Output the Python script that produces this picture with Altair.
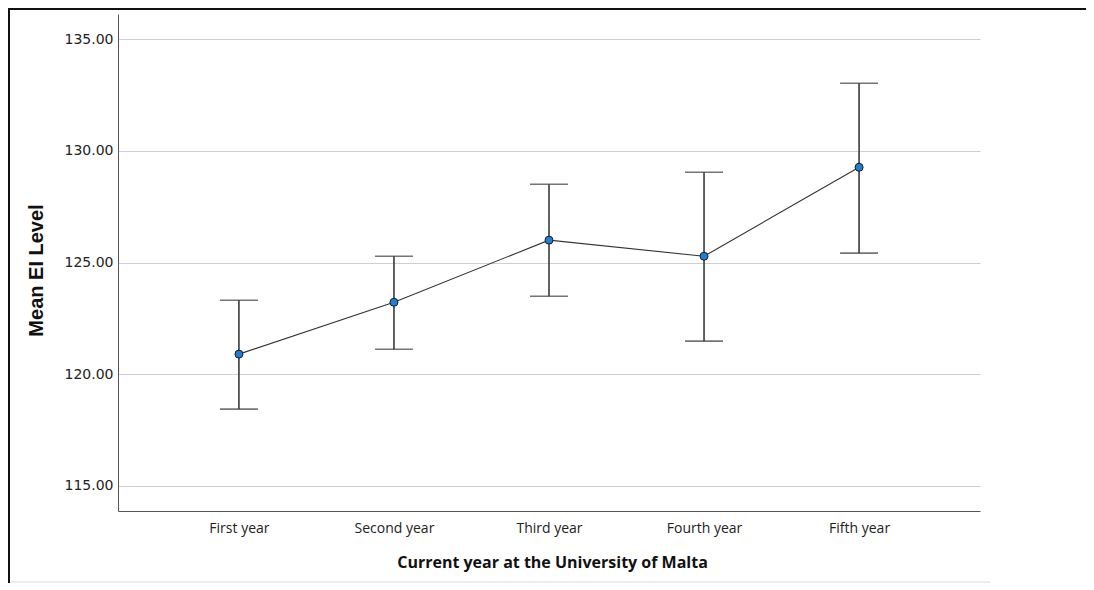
import altair as alt
import pandas as pd

years = ["First year", "Second year", "Third year", "Fourth year", "Fifth year"]
means = [120.90, 123.22, 126.00, 125.28, 129.26]
lower = [118.44, 121.12, 123.49, 121.48, 125.42]
upper = [123.31, 125.28, 128.50, 129.04, 133.02]
y_ticks = [115, 120, 125, 130, 135]

df = pd.DataFrame({"year": years, "mean": means, "lo": lower, "hi": upper})

W, H = 862, 497

xscale = alt.Scale(type="point", domain=years, padding=0.78)
yscale = alt.Scale(domain=[113.88, 136.12], nice=False, zero=False)

xenc = alt.X("year:N", scale=xscale, sort=years,
             axis=alt.Axis(title="Current year at the University of Malta",
                           labelAngle=0, ticks=False, tickSize=0, grid=False,
                           labelFont="Open Sans", labelFontSize=14, labelColor="#222",
                           labelBaseline="alphabetic", labelPadding=21,
                           titleFont="Open Sans", titleFontWeight="bold", titleFontSize=16,
                           titleColor="#111", titleX=434, titleY=56,
                           titleBaseline="alphabetic",
                           domainColor="#555", domainWidth=1))

base = alt.Chart(df)

grid = base.mark_point(opacity=0).encode(
    x=xenc,
    y=alt.Y("mean:Q", scale=yscale,
            axis=alt.Axis(title="Mean EI Level", values=y_ticks, format=".2f",
                          ticks=False, tickSize=0, grid=True, gridColor="#cfcfcf",
                          gridWidth=1.2, labelFont="DejaVu Sans", labelFontSize=14,
                          labelColor="#222", labelPadding=5,
                          titleFont="Liberation Sans", titleFontWeight="bold",
                          titleFontSize=20, titleColor="#111", titleAngle=-90,
                          titleX=-82, titleY=256, titleBaseline="middle",
                          titleAlign="center",
                          domainColor="#555", domainWidth=1)),
)

bars = base.mark_rule(color="#3a3a3a", strokeWidth=1.6).encode(
    x=alt.X("year:N", scale=xscale, sort=years),
    y=alt.Y("lo:Q", scale=yscale),
    y2="hi:Q",
)
cap_hi = base.mark_tick(color="#3a3a3a", size=38, thickness=1.6, orient="horizontal").encode(
    x=alt.X("year:N", scale=xscale, sort=years),
    y=alt.Y("hi:Q", scale=yscale),
)
cap_lo = base.mark_tick(color="#3a3a3a", size=38, thickness=1.6, orient="horizontal").encode(
    x=alt.X("year:N", scale=xscale, sort=years),
    y=alt.Y("lo:Q", scale=yscale),
)
line = base.mark_line(color="#333333", strokeWidth=1.1).encode(
    x=alt.X("year:N", scale=xscale, sort=years),
    y=alt.Y("mean:Q", scale=yscale),
)
pts = base.mark_circle(size=64, color="#1f7fd6", stroke="#1a1a1a", strokeWidth=1, opacity=1).encode(
    x=alt.X("year:N", scale=xscale, sort=years),
    y=alt.Y("mean:Q", scale=yscale),
)

one = alt.Chart(pd.DataFrame({"k": [0]}))
frame_top = one.mark_rule(color="#111", strokeWidth=2).encode(
    x=alt.value(-110), x2=alt.value(W + 106), y=alt.value(-5), y2=alt.value(-5))
frame_left = one.mark_rule(color="#111", strokeWidth=2).encode(
    x=alt.value(-109), x2=alt.value(-109), y=alt.value(-6), y2=alt.value(H + 75))
frame_bottom = one.mark_rule(color="#d8d8d8", strokeWidth=1).encode(
    x=alt.value(-108), x2=alt.value(W + 10), y=alt.value(568), y2=alt.value(568))

chart = alt.layer(grid, bars, cap_hi, cap_lo, line, pts, frame_top, frame_left, frame_bottom).properties(
    width=W, height=H,
    autosize=alt.AutoSizeParams(type="none"),
    padding={"left": 110, "top": 6, "right": 106, "bottom": 72},
    background="white",
).configure_view(strokeWidth=0)

chart.save("out.html", embed_options={"renderer": "svg", "actions": False})
